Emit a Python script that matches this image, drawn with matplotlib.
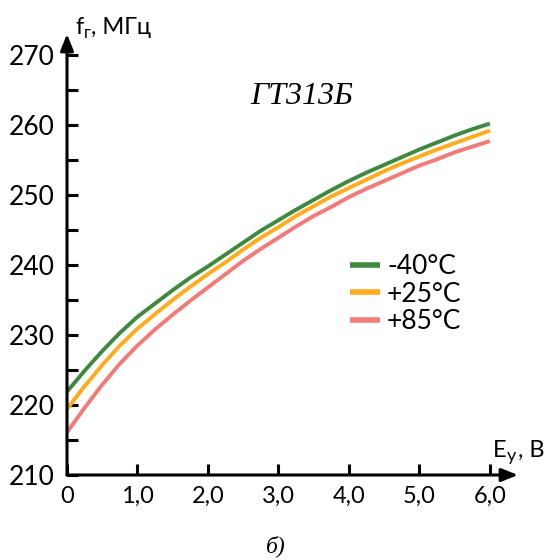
import matplotlib
matplotlib.use("Agg")
import matplotlib.pyplot as plt

W, H = 551, 560
plt.rcParams['font.family'] = ['Lato', 'DejaVu Sans']

# ---- data ----
ey = [0, 0.25, 0.5, 0.75, 1.0, 1.25, 1.5, 1.75, 2.0, 2.25, 2.5, 2.75, 3.0,
      3.25, 3.5, 3.75, 4.0, 4.25, 4.5, 4.75, 5.0, 5.25, 5.5, 5.75, 6.0]
f_m40 = [221.9, 224.9, 227.7, 230.3, 232.6, 234.5, 236.4, 238.2, 239.8, 241.5, 243.2, 244.9, 246.4,
         247.9, 249.3, 250.7, 252.0, 253.2, 254.3, 255.4, 256.5, 257.5, 258.5, 259.4, 260.2]
f_p25 = [219.4, 222.7, 225.7, 228.5, 230.9, 233.0, 235.0, 236.9, 238.7, 240.4, 242.2, 243.9, 245.4,
         247.0, 248.4, 249.8, 251.0, 252.2, 253.4, 254.5, 255.5, 256.5, 257.4, 258.3, 259.2]
f_p85 = [216.1, 219.6, 222.9, 225.9, 228.5, 230.8, 232.9, 234.9, 236.8, 238.7, 240.6, 242.3, 243.9,
         245.5, 247.0, 248.3, 249.7, 250.9, 252.0, 253.1, 254.2, 255.1, 256.1, 256.9, 257.7]
series_labels = ['-40°C', '+25°C', '+85°C']
colors = ['#3d8a3f', '#ffab1c', '#f47a77']

x_ticks = [0, 1, 2, 3, 4, 5, 6]
x_tick_labels = ['0', '1,0', '2,0', '3,0', '4,0', '5,0', '6,0']
y_ticks = [210, 220, 230, 240, 250, 260, 270]
y_minor = [215, 225, 235, 245, 255, 265]

title = 'ГТ313Б'
caption = 'б)'

fig = plt.figure(figsize=(W / 100, H / 100), dpi=100)


def P(x, y):
    return x / W, 1 - y / H


x0, x1 = 67, 518
y0, y1 = 475, 34
ax = fig.add_axes([x0 / W, (H - y0) / H, (x1 - x0) / W, (y0 - y1) / H])
ax.set_xlim(0, 6.4)
ax.set_ylim(210, 273)
for s in ax.spines.values():
    s.set_visible(False)

for ys, lab, c in zip([f_m40, f_p25, f_p85], series_labels, colors):
    ax.plot(ey, ys, color=c, lw=2.8, label=lab, solid_capstyle='butt',
            solid_joinstyle='round', clip_on=False, zorder=3)

# axes with arrows
arrow_kw = dict(arrowstyle='-|>,head_length=0.55,head_width=0.22', lw=2.2, color='black',
                shrinkA=0, shrinkB=0, mutation_scale=18)
ax.annotate('', xy=(6.4, 210), xytext=(0, 210), arrowprops=arrow_kw, annotation_clip=False, zorder=4)
ax.annotate('', xy=(0, 273), xytext=(0, 210), arrowprops=arrow_kw, annotation_clip=False, zorder=4)

ax.set_xticks(x_ticks)
ax.set_xticklabels(x_tick_labels)
ax.set_yticks(y_ticks)
ax.set_yticks(y_minor, minor=True)
ax.tick_params(axis='both', which='both', direction='in', length=8, width=2.2, color='black')
ax.tick_params(axis='x', labelsize=17, pad=8)
ax.tick_params(axis='y', labelsize=19, pad=9)

leg = ax.legend(loc='upper left', bbox_to_anchor=P(350, 254), bbox_transform=fig.transFigure,
                frameon=False, fontsize=19, handlelength=1.15, handletextpad=0.25,
                labelspacing=0.1, borderpad=0, borderaxespad=0)
for line in leg.get_lines():
    line.set_linewidth(4)

# axis labels
fig.text(*P(75, 34), 'f', fontsize=17, ha='left', va='baseline')
fig.text(*P(84, 38), 'г', fontsize=12, ha='left', va='baseline')
fig.text(*P(91, 34), ', МГц', fontsize=17, ha='left', va='baseline')

fig.text(*P(493, 457), 'E', fontsize=17, ha='left', va='baseline')
fig.text(*P(507, 461), 'у', fontsize=13, ha='left', va='baseline')
fig.text(*P(518, 457), ', В', fontsize=17, ha='left', va='baseline')

fig.text(*P(302, 97), title, fontsize=23, family='Liberation Serif', style='italic',
         ha='center', va='center')
fig.text(*P(276, 546), caption, fontsize=17, family='Liberation Serif', style='italic',
         ha='center', va='center')

fig.savefig('out.png', dpi=100)
